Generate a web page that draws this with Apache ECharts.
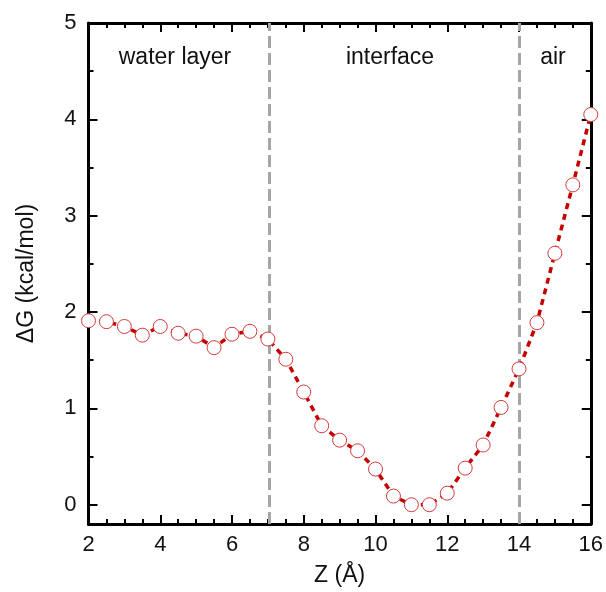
<!DOCTYPE html>
<html><head><meta charset="utf-8">
<script src="https://cdn.jsdelivr.net/npm/echarts@6/dist/echarts.min.js"></script>
<style>html,body{margin:0;padding:0;background:#fff}#c{width:606px;height:592px}</style>
</head><body><div id="c"></div>
<script>
const zValues = [2,2.5,3,3.5,4,4.5,5,5.5,6,6.5,7,7.5,8,8.5,9,9.5,10,10.5,11,11.5,12,12.5,13,13.5,14,14.5,15,15.5,16];
const dG = [1.91,1.90,1.85,1.76,1.85,1.78,1.75,1.63,1.77,1.80,1.72,1.51,1.17,0.82,0.67,0.56,0.37,0.09,0.0,0.0,0.12,0.38,0.62,1.01,1.41,1.89,2.61,3.32,4.05];
const boundaries = [7.05, 14];
const regionLabels = ['water layer', 'interface', 'air'];
const yMajorTicks = [0,1,2,3,4,5];
const yMinorTicks = [0.5,1.5,2.5,3.5,4.5];
const xTicks = [2,4,6,8,10,12,14,16];

const FONT = 'Liberation Sans, Arial, sans-serif';
const chart = echarts.init(document.getElementById('c'));
const yMin = -0.2, yMax = 5;
const axLine = {show:true, onZero:false, lineStyle:{color:'#000', width:3}};
function yAx(pos, major, withLabels, showLine) {
  return {
    type:'value', position:pos, min:yMin, max:yMax,
    axisLine: showLine ? axLine : {show:false},
    axisTick:{show:true, inside:true, length: major?9:5, lineStyle:{color:'#000', width:2},
      customValues: major ? yMajorTicks : yMinorTicks},
    axisLabel:{show:withLabels, customValues: yMajorTicks, fontSize:22, fontFamily:FONT, color:'#111', margin:12},
    splitLine:{show:false},
    name: withLabels ? 'ΔG (kcal/mol)' : '',
    nameLocation:'middle', nameGap:50, nameRotate:90,
    nameTextStyle:{fontSize:23, fontFamily:FONT, color:'#111'}
  };
}
function xAx(pos, withLabels) {
  return {
    type:'value', position:pos, min:2, max:16, interval:2,
    axisLine: axLine,
    axisTick:{show:true, inside:true, length:9, lineStyle:{color:'#000', width:2}},
    minorTick:{show:true, splitNumber:4, length:5, lineStyle:{color:'#000', width:2}},
    axisLabel:{show:withLabels, fontSize:22, fontFamily:FONT, color:'#111', margin:10},
    splitLine:{show:false}, minorSplitLine:{show:false},
    name: withLabels ? 'Z (Å)' : '',
    nameLocation:'middle', nameGap:40,
    nameTextStyle:{fontSize:23, fontFamily:FONT, color:'#111'}
  };
}
const data = zValues.map((z,i)=>[z, dG[i]]);
const regionX = [175, 390, 553];
chart.setOption({
  animation:false,
  grid:{left:88.5, right:14, top:23, bottom:66.5},
  xAxis:[xAx('bottom', true), xAx('top', false)],
  yAxis:[yAx('left', true, true, true), yAx('left', false, false, false), yAx('right', true, false, true), yAx('right', false, false, false)],
  graphic: regionLabels.map((t,i)=>({
    type:'text', x: regionX[i], y: 58,
    style:{text:t, fontSize:23, fontFamily:FONT, fill:'#111', align:'center', verticalAlign:'middle'}
  })),
  series:[{
    type:'line', data:data, xAxisIndex:0, yAxisIndex:0,
    symbol:'circle', symbolSize:14,
    itemStyle:{color:'#fff', borderColor:'#d23a3a', borderWidth:1},
    lineStyle:{color:'#c40000', width:3.5, type:[6,5]},
    z:5,
    markLine:{
      silent:true, symbol:['none','none'], label:{show:false},
      lineStyle:{color:'#a6a6a6', width:3, type:[12,5]},
      data: boundaries.map(b=>({xAxis:b})),
      z:3
    }
  }]
});
</script></body></html>
